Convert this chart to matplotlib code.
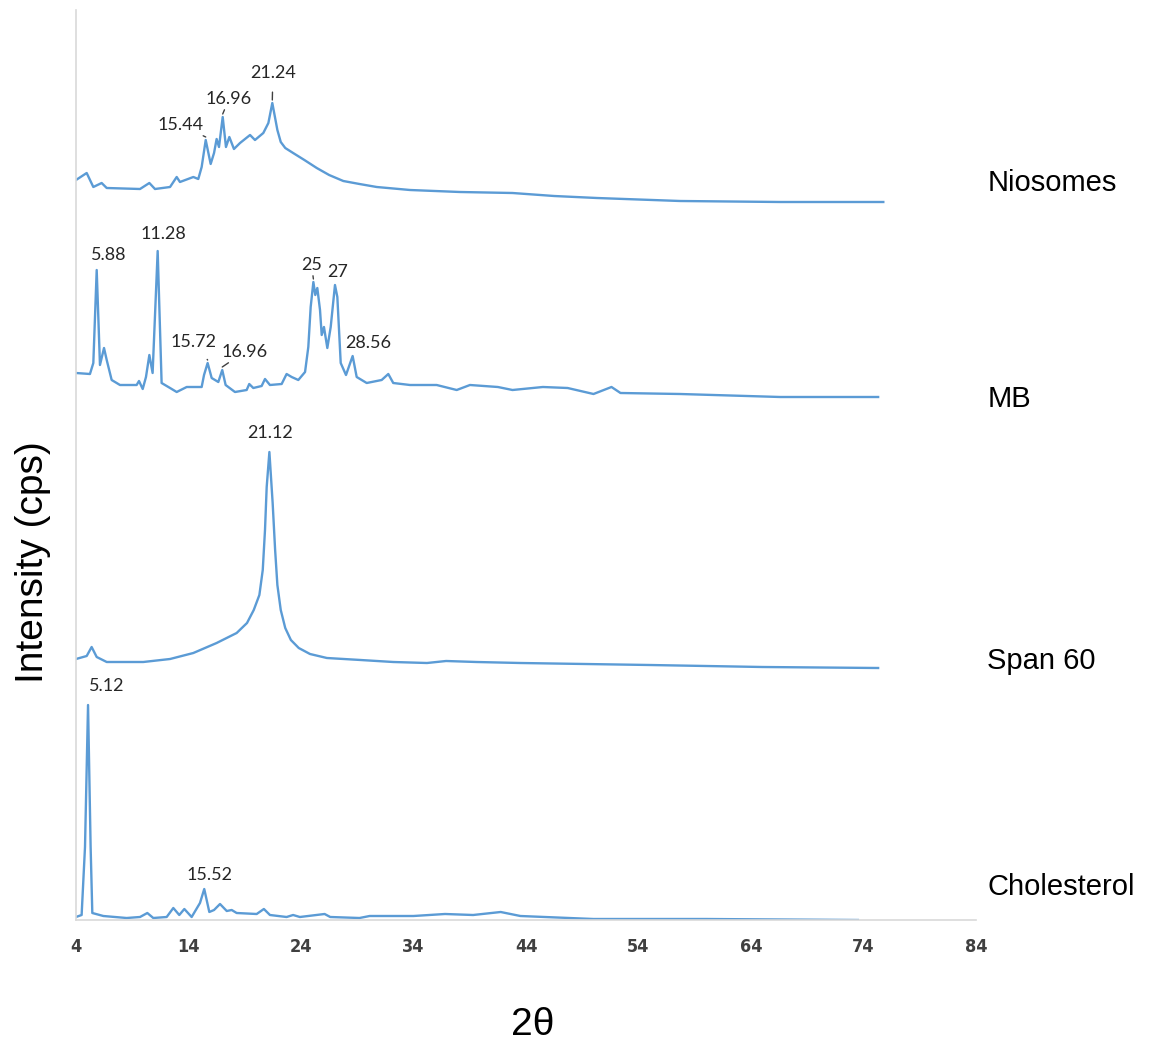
import matplotlib
matplotlib.use("Agg")
import matplotlib.pyplot as plt

# 2theta positions and intensities (arbitrary, stacked)
nio_x = [4.0, 4.95, 5.54, 6.28, 6.73, 9.69, 10.52, 11.02, 12.36, 12.95, 13.24, 14.43, 14.87, 15.17,
         15.53, 15.97, 16.27, 16.5, 16.71, 17.04, 17.33, 17.63, 18.04, 18.58, 19.47, 19.91, 20.65,
         21.1, 21.45, 21.9, 22.2, 22.6, 23.3, 24.3, 25.4, 26.5, 27.76, 29.2, 30.73, 33.69, 38.13,
         42.8, 46.5, 50.3, 57.7, 66.6, 75.76]
nio_y = [740, 747, 733, 737, 732, 731, 737, 731, 733, 743, 738, 743, 741, 753,
         780, 756, 767, 781, 773, 803, 773, 783, 771, 777, 785, 780, 787,
         797, 817, 790, 778, 772, 767, 760, 752, 745, 739, 736, 733, 730, 728,
         727, 724, 722, 719, 718, 718]

mb_x = [4.0, 5.24, 5.54, 5.84, 6.13, 6.49, 6.73, 7.17, 7.91, 9.39, 9.6, 9.93, 10.22, 10.52, 10.81,
        11.26, 11.61, 12.36, 12.95, 13.84, 15.17, 15.38, 15.7, 16.06, 16.65, 17.0, 17.3, 18.13,
        19.17, 19.4, 19.76, 20.5, 20.8, 21.24, 22.28, 22.72, 23.17, 23.76, 24.36, 24.65, 24.86,
        25.1, 25.27, 25.45, 25.69, 25.84, 26.04, 26.34, 26.64, 27.02, 27.23, 27.53, 28.0, 28.59,
        28.95, 29.84, 31.17, 31.76, 32.2, 33.69, 36.06, 37.84, 39.02, 41.5, 42.8, 45.5, 47.7,
        50.0, 51.6, 52.4, 57.7, 66.6, 75.3]
mb_y = [547, 546, 557, 650, 555, 572, 560, 540, 535, 535, 539, 531, 543, 565, 547,
        669, 537, 532, 528, 533, 533, 545, 557, 542, 538, 550, 535, 528,
        530, 536, 532, 534, 541, 535, 536, 546, 543, 540, 548, 573, 613,
        638, 625, 632, 610, 585, 593, 572, 593, 635, 623, 557, 545, 564,
        543, 537, 540, 546, 537, 535, 535, 530, 535, 533, 530, 533, 532,
        526, 533, 527, 526, 523, 523]

span_x = [4.0, 4.95, 5.39, 5.84, 6.73, 9.98, 12.36, 14.43, 16.5, 18.28, 19.2, 19.8, 20.3, 20.6,
          20.8, 20.95, 21.19, 21.48, 21.7, 21.9, 22.2, 22.6, 23.1, 23.8, 24.8, 26.3, 29.3, 32.2,
          35.2, 36.9, 39.6, 43.5, 55.0, 65.0, 75.3]
span_y = [261, 264, 273, 263, 258, 258, 261, 267, 277, 287, 297, 310, 325, 350,
          390, 433, 468, 417, 370, 335, 310, 292, 280, 272, 266, 262, 260, 258,
          257, 259, 258, 257, 255, 253, 252]

chol_x = [4.0, 4.5, 4.8, 5.07, 5.3, 5.45, 6.43, 8.5, 9.69, 10.34, 10.87, 12.06, 12.65, 13.18,
          13.63, 14.28, 15.02, 15.4, 15.85, 16.27, 16.8, 17.4, 17.84, 18.28, 20.06, 20.7, 21.24,
          22.72, 23.3, 23.9, 26.1, 26.6, 29.2, 30.1, 34.0, 36.8, 39.3, 41.75, 43.5, 50.0, 60.0, 73.5]
chol_y = [3, 5, 73, 215, 73, 7, 4, 2, 3, 7, 2, 3, 12, 5,
          11, 3, 17, 31, 8, 10, 16, 9, 10, 7, 6, 11, 5,
          3, 5, 3, 6, 3, 2, 4, 4, 6, 5, 8, 4, 1, 1, 0]

sample_names = ["Niosomes", "MB", "Span 60", "Cholesterol"]
name_y = [737, 521, 259, 33]

# peak labels: text, peak 2theta, peak height
peak_text = ["15.44", "16.96", "21.24", "5.88", "11.28", "15.72", "16.96", "25", "27", "28.56",
             "21.12", "5.12", "15.52"]
peak_x = [15.53, 17.04, 21.45, 5.84, 11.26, 15.7, 17.0, 25.1, 27.02, 28.59, 21.19, 5.07, 15.4]
peak_y = [780, 803, 817, 650, 669, 557, 550, 638, 635, 564, 468, 215, 31]
# where each label sits, and whether a leader line is drawn
label_pos = [(13.33, 795), (17.6, 821), (21.5, 847), (6.89, 665), (11.78, 686), (14.49, 578),
             (18.96, 568), (24.95, 655), (27.29, 648), (29.96, 577), (21.29, 487), (6.71, 234),
             (15.91, 45)]
leader = [True, True, True, False, False, True, True, True, False, False, False, False, False]

blue = "#5B9BD5"

fig = plt.figure(figsize=(11.58, 10.45), dpi=100)
ax = fig.add_axes([76 / 1158, 1 - 920 / 1045, 900 / 1158, 910 / 1045])

for xs, ys in [(nio_x, nio_y), (mb_x, mb_y), (span_x, span_y), (chol_x, chol_y)]:
    ax.plot(xs, ys, color=blue, lw=1.7, solid_joinstyle="round")

for t, px, py, (tx, ty), ld in zip(peak_text, peak_x, peak_y, label_pos, leader):
    if ld:
        ax.annotate(t, xy=(px, py + 3), xytext=(tx, ty), ha="center", va="center",
                    fontsize=13, family="Lato", color="#262626",
                    arrowprops=dict(arrowstyle="-", color="#404040", lw=1, shrinkA=6, shrinkB=0))
    else:
        ax.text(tx, ty, t, ha="center", va="center", fontsize=13, family="Lato", color="#262626")

for name, ny in zip(sample_names, name_y):
    ax.text(85.0, ny, name, ha="left", va="center", fontsize=21,
            family="Liberation Sans", color="black", clip_on=False)

ax.set_xlim(4, 84)
ax.set_ylim(0, 910)
ax.set_xticks(range(4, 85, 10))
ax.set_yticks([])
ax.tick_params(axis="x", length=0, pad=13)
for lab in ax.get_xticklabels():
    lab.set_family("DejaVu Sans")
    lab.set_fontstretch("condensed")
    lab.set_fontweight("bold")
    lab.set_fontsize(13)
    lab.set_color("#404040")

for s in ["top", "right"]:
    ax.spines[s].set_visible(False)
ax.spines["left"].set_color("#d9d9d9")
ax.spines["bottom"].set_color("#d9d9d9")
ax.spines["left"].set_linewidth(1.2)
ax.spines["bottom"].set_linewidth(1.2)

fig.text(33 / 1158, 1 - 562 / 1045, "Intensity (cps)", rotation=90, ha="center", va="center",
         fontsize=28, family="Liberation Sans")
fig.text(533 / 1158, 1 - 1025 / 1045, "2θ", ha="center", va="center",
         fontsize=28, family="Liberation Sans")

fig.savefig("out.png", dpi=100)
